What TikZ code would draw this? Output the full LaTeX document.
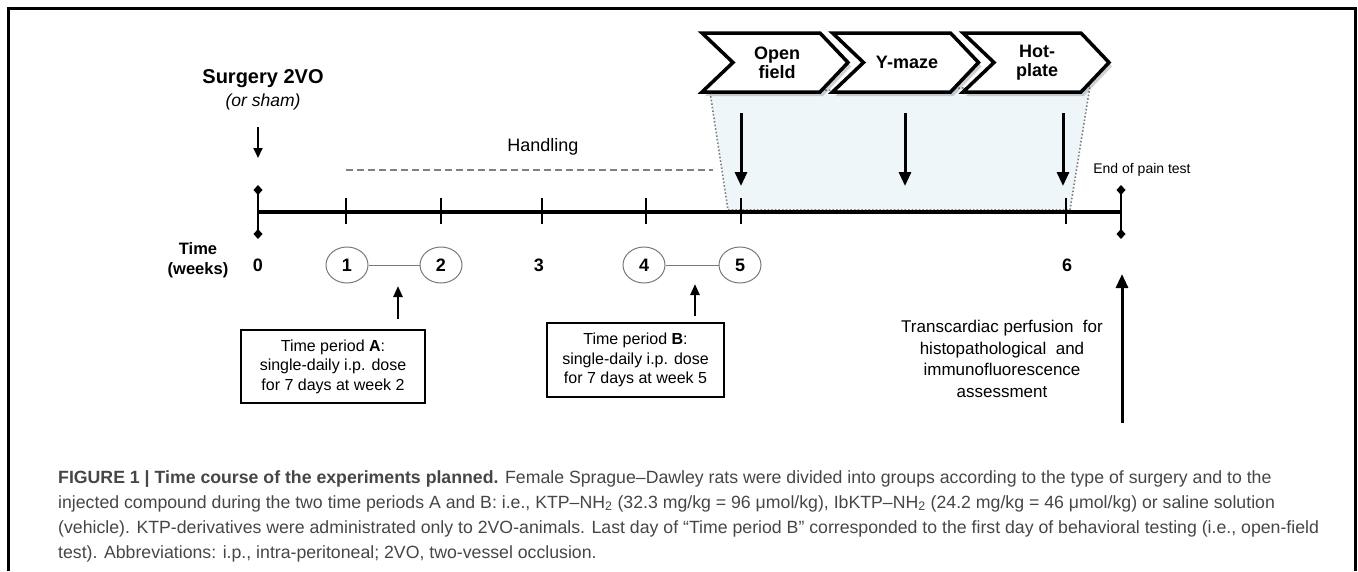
\documentclass[tikz,border=0pt]{standalone}
\usepackage{fontspec}
\setmainfont{Liberation Sans}
\usetikzlibrary{arrows.meta,shapes.geometric}
\definecolor{shade}{RGB}{239,246,249}
\definecolor{capgray}{RGB}{70,70,70}
\definecolor{circgray}{RGB}{120,120,120}
\tikzset{
  axisline/.style={line width=3.5pt},
  tickln/.style={line width=2pt},
  endbar/.style={line width=2.5pt,{Diamond[length=10pt,width=9pt]}-{Diamond[length=10pt,width=9pt]}},
  bigarrow/.style={line width=3pt,-{Triangle[length=14pt,width=12pt]}},
  midarrow/.style={line width=2.4pt,-{Triangle[length=11pt,width=9pt]}},
  thinarrow/.style={line width=1.8pt,-{Triangle[length=10pt,width=9pt]}},
  wk/.style={ellipse,draw=circgray,line width=1pt,minimum width=42pt,minimum height=36pt,inner sep=0pt,fill=white,font=\bfseries\fontsize{18}{20}\selectfont},
  lbl/.style={font=\bfseries\fontsize{18}{20}\selectfont},
  chev/.style={draw,line width=3.5pt,fill=white,line join=miter},
  chevshadow/.style={fill=black,opacity=0.18},
  chevtext/.style={align=center,font=\bfseries\fontsize{18}{19}\selectfont},
  dosebox/.style={draw,line width=1.3pt,align=center,inner sep=0pt,font=\fontsize{16}{19.5}\selectfont},
  capstyle/.style={anchor=base west,inner sep=0pt,text=capgray,font=\fontsize{17.7}{25}\selectfont},
}
\newcommand{\chevpath}[1]{(#1,33) -- (#1+118,33) -- (#1+146,62.5) -- (#1+118,92) -- (#1,92) -- (#1+31,62.5) -- cycle}
\begin{document}
\begin{tikzpicture}[x=1pt,y=-1pt]
\useasboundingbox (0,0) rectangle (1358,571);
% frame
\draw[line width=3pt] (8,571) -- (8,8) -- (1355,8) -- (1355,571);

% shaded behavioural window
\draw[fill=shade,draw=gray,dotted,line width=1.6pt] (710,92) -- (1090,86) -- (1070,210) -- (728,210) -- cycle;

% chevrons
\foreach \L in {702,832.5,963}{
  \fill[chevshadow] [shift={(3,4)}] \chevpath{\L};
  \draw[chev] \chevpath{\L};
}
\node[chevtext] (open) at (777,62.5) {Open\\field};
\node[chevtext] (ymaze) at (907,62.5) {Y-maze};
\node[chevtext] (hot) at (1037,62.5) {Hot-\\plate};

% surgery
\node[font=\bfseries\fontsize{20}{22}\selectfont] (surg) at (263,79) {Surgery 2VO};
\node[font=\itshape\fontsize{17.5}{20}\selectfont] (sham) at (263,102) {(or sham)};
\coordinate (sa1) at (258,127);
\coordinate (sa2) at (258,158);
\draw[thinarrow] (sa1) -- (sa2);

% handling
\node[font=\fontsize{18}{20}\selectfont] (hand) at (543,147) {Handling};
\coordinate (h1) at (346,170);
\coordinate (h2) at (713,170);
\draw[gray,line width=2.4pt,dash pattern=on 7pt off 4pt] (h1) -- (h2);

% axis
\coordinate (t0) at (258,212);
\coordinate (tend) at (1121,212);
\draw[axisline] (t0) -- (tend);
\coordinate (b0a) at (258,185);
\coordinate (b0b) at (258,239);
\draw[endbar] (b0a) -- (b0b);
\coordinate (bea) at (1121,185);
\coordinate (beb) at (1121,239);
\draw[endbar] (bea) -- (beb);
\foreach \x/\n in {346/k1,441/k2,542/k3,646/k4,741/k5,1066/k6}{
  \coordinate (\n a) at (\x,198);
  \coordinate (\n b) at (\x,224);
  \draw[tickln] (\n a) -- (\n b);
}

% behavioural arrows
\foreach \x/\n in {741/d1,905/d2,1063/d3}{
  \coordinate (\n a) at (\x,113);
  \coordinate (\n b) at (\x,186);
  \draw[bigarrow] (\n a) -- (\n b);
}

% week labels
\node[font=\bfseries\fontsize{16.5}{20}\selectfont,align=center] (time) at (198,260) {Time\\(weeks)};
\node[lbl] (w0) at (258,265) {0};
\node[wk] (w1) at (347,265) {1};
\node[wk] (w2) at (441,265) {2};
\node[lbl] (w3) at (539,265) {3};
\node[wk] (w4) at (644,265) {4};
\node[wk] (w5) at (740,265) {5};
\node[lbl] (w6) at (1067,265) {6};
\draw[circgray,line width=1pt] (w1) -- (w2);
\draw[circgray,line width=1pt] (w4) -- (w5);

% time period boxes
\coordinate (pa1) at (398,319);
\coordinate (pa2) at (398,286);
\draw[midarrow] (pa1) -- (pa2);
\node[dosebox,minimum width=184pt,minimum height=73pt] (boxA) at (333,366.5) {Time period \textbf{A}:\\single-daily i.p. dose\\for 7 days at week 2};
\coordinate (pb1) at (695,316);
\coordinate (pb2) at (695,284);
\draw[midarrow] (pb1) -- (pb2);
\node[dosebox,minimum width=177pt,minimum height=74pt] (boxB) at (635.5,360) {Time period \textbf{B}:\\single-daily i.p. dose\\for 7 days at week 5};

% end of pain test / perfusion
\node[font=\fontsize{14}{16}\selectfont] (endpain) at (1142,170) {End of pain test};
\coordinate (pf1) at (1122,423);
\coordinate (pf2) at (1122,274);
\draw[bigarrow] (pf1) -- (pf2);
\node[align=center,font=\fontsize{17}{21.7}\selectfont] (perf) at (1002,359) {Transcardiac perfusion\ \ for\\histopathological\ \ and\\immunofluorescence\\assessment};

% caption
\node[capstyle] (cap1) at (58,483) {\textbf{FIGURE 1 | Time course of the experiments planned.} Female Sprague–Dawley rats were divided into groups according to the type of surgery and to the};
\node[capstyle] (cap2) at (58,508) {injected compound during the two time periods A and B: i.e., KTP–NH\textsubscript{2} (32.3 mg/kg = 96 μmol/kg), IbKTP–NH\textsubscript{2} (24.2 mg/kg = 46 μmol/kg) or saline solution};
\node[capstyle] (cap3) at (58,533) {(vehicle). KTP-derivatives were administrated only to 2VO-animals. Last day of “Time period B” corresponded to the first day of behavioral testing (i.e., open-field};
\node[capstyle] (cap4) at (58,558) {test). Abbreviations: i.p., intra-peritoneal; 2VO, two-vessel occlusion.};
\end{tikzpicture}
\end{document}
